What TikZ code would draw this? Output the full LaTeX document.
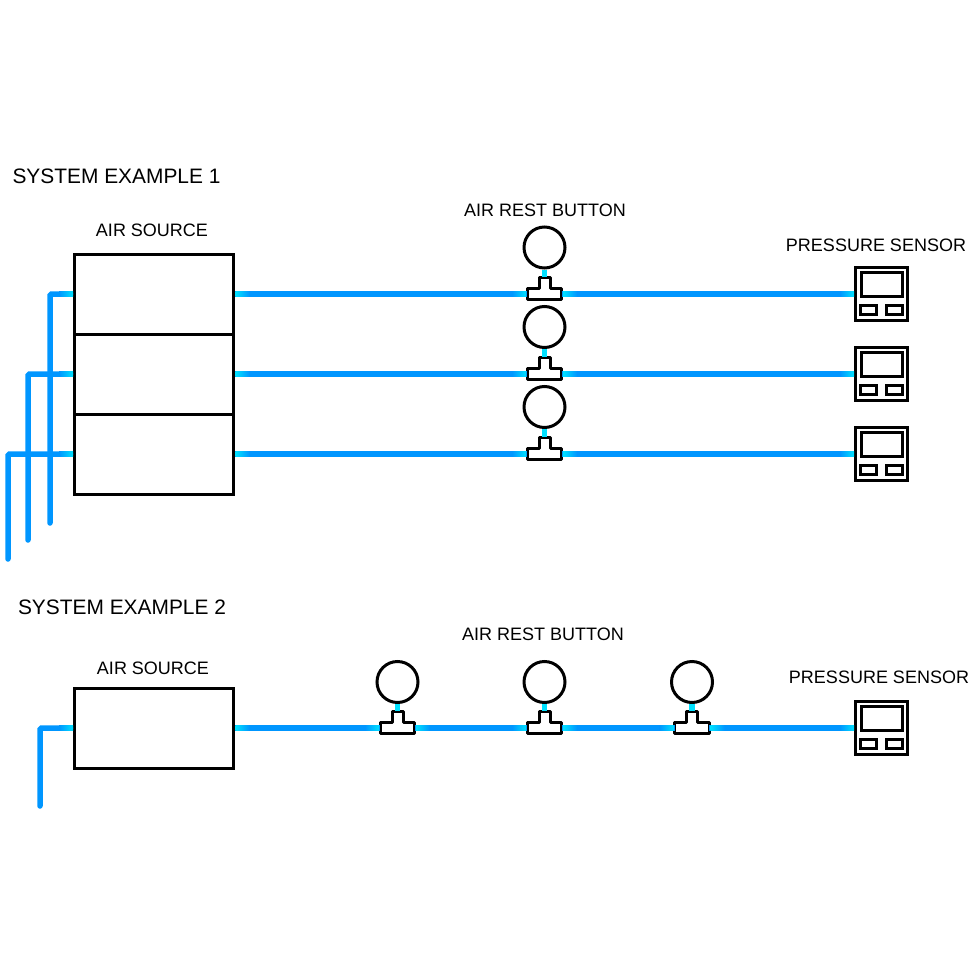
\documentclass[tikz,border=0pt]{standalone}
\usepackage{fontspec}
\setmainfont{Liberation Sans}
\usetikzlibrary{positioning,calc}
\definecolor{pipeblue}{RGB}{0,150,255}
\definecolor{tipcyan}{RGB}{0,225,255}
\tikzset{x=1pt,y=-1pt,
  source node/.style={rectangle,draw,line width=3pt,minimum width=159pt,minimum height=80pt,inner sep=0pt},
  gauge node/.style={circle,draw,line width=3pt,minimum size=41pt,inner sep=0pt},
  tee node/.style={rectangle,minimum width=34pt,minimum height=10pt,inner sep=0pt},
  sensor node/.style={rectangle,draw,line width=3pt,minimum width=52pt,minimum height=53pt,inner sep=0pt},
  screen node/.style={rectangle,draw,line width=3pt,minimum width=41pt,minimum height=24pt,inner sep=0pt},
  key node/.style={rectangle,draw,line width=3pt,minimum width=16pt,minimum height=9pt,inner sep=0pt},
  title text/.style={font=\fontsize{20.9}{24}\selectfont},
  label text/.style={font=\fontsize{18}{21}\selectfont},
  pipe/.style={draw=pipeblue,line width=5.5pt},
  feed/.style={pipe,line cap=round,rounded corners=1.5pt,shorten <=2.5pt},
  stem/.style={draw=tipcyan,line width=5.5pt}
}
% tee fitting: name, x, y of the pipe
\newcommand{\teepiece}[3]{
  \node[tee node] (#1) at (#2,#3) {};
  \coordinate (#1top) at (#2,#3-17);
  \draw[line width=3pt,line join=round,fill=white] (#1.south west) -- (#1.north west) -- ($(#1.north)+(-5.5,0)$) -- (#1top -| {$(#1.north)+(-5.5,0)$}) -- (#1top -| {$(#1.north)+(5.5,0)$}) -- ($(#1.north)+(5.5,0)$) -- (#1.north east) -- (#1.south east) -- cycle;
}
% pressure sensor: name, x, y
\newcommand{\sensorpiece}[3]{
  \node[sensor node] (#1) at (#2,#3) {};
  \node[screen node] (#1s) at (#2,#3-10) {};
  \node[key node] (#1a) at (#2-13,#3+16) {};
  \node[key node] (#1b) at (#2+13,#3+16) {};
}
% fade at the end of a pipe: x, y
\newcommand{\tipleft}[2]{\shade[left color=pipeblue,right color=tipcyan] (#1-14,#2-2.75) rectangle (#1,#2+2.75);}
\newcommand{\tipright}[2]{\shade[left color=tipcyan,right color=pipeblue] (#1,#2-2.75) rectangle (#1+14,#2+2.75);}
\begin{document}
\begin{tikzpicture}
\useasboundingbox (0,0) rectangle (976,976);
\node[title text] (title1) at (116.5,176) {SYSTEM EXAMPLE 1};
\node[title text] (title2) at (122,607) {SYSTEM EXAMPLE 2};
\node[label text] (air1) at (152,230) {AIR SOURCE};
\node[label text] (rest1) at (545,210) {AIR REST BUTTON};
\node[label text] (press1) at (876,245.5) {PRESSURE SENSOR};
\node[label text] (air2) at (153,668) {AIR SOURCE};
\node[label text] (rest2) at (543,634.5) {AIR REST BUTTON};
\node[label text] (press2) at (879,677.5) {PRESSURE SENSOR};
% example 1
\foreach \n/\y/\g/\fx/\fy in {1/294/247.5/50/523,2/374/327/28/540,3/454/407/8/559}{
  \node[source node] (src\n) at (154,\y) {};
  \coordinate (feed\n) at (\fx,\fy);
  \draw[feed] (src\n.west) -| (feed\n);
  \node[gauge node] (gauge\n) at (544.5,\g) {};
  \teepiece{tee\n}{544.5}{\y}
  \sensorpiece{sens\n}{881.5}{\y}
  \draw[pipe] (src\n.east) -- (tee\n.west);
  \draw[pipe] (tee\n.east) -- (sens\n.west);
  \draw[stem] (gauge\n.south) -- (tee\n top);
  \tipleft{73}{\y}
  \tipright{235.5}{\y}
  \tipleft{526}{\y}
  \tipright{563}{\y}
  \tipleft{854}{\y}
}
% example 2
\node[source node] (src4) at (154,728) {};
\coordinate (feed4) at (40,806);
\draw[feed] (src4.west) -| (feed4);
\sensorpiece{sens4}{881.5}{728}
\foreach \n/\x in {4/397.5,5/544.5,6/692}{
  \node[gauge node] (gauge\n) at (\x,682) {};
  \teepiece{tee\n}{\x}{728}
  \draw[stem] (gauge\n.south) -- (tee\n top);
}
\draw[pipe] (src4.east) -- (tee4.west);
\draw[pipe] (tee4.east) -- (tee5.west);
\draw[pipe] (tee5.east) -- (tee6.west);
\draw[pipe] (tee6.east) -- (sens4.west);
\tipleft{73}{728}
\tipright{235.5}{728}
\foreach \x in {397.5,544.5,692}{
  \tipleft{\x-18.5}{728}
  \tipright{\x+18.5}{728}
}
\tipleft{854}{728}
\end{tikzpicture}
\end{document}
